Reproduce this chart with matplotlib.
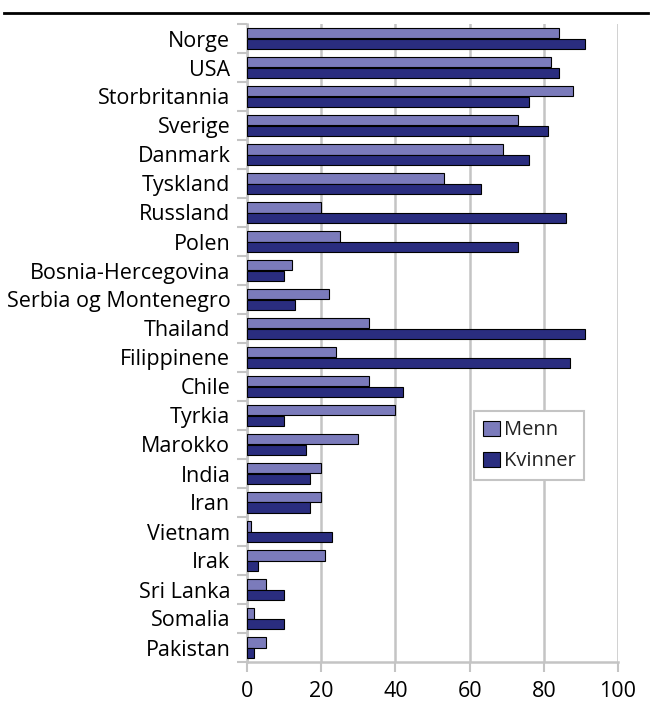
#!/usr/bin/env python3
"""Horizontal grouped bar chart: Menn vs Kvinner by country."""

import matplotlib
matplotlib.use('Agg')
import matplotlib.pyplot as plt
from matplotlib.lines import Line2D
import numpy as np

COLORS = {
    'menn': '#7b7bbb',
    'kvinner': '#2a2d7f',
    'grid': '#c4c4c4',
    'text': '#222222',
}

countries = ['Norge', 'USA', 'Storbritannia', 'Sverige', 'Danmark', 'Tyskland',
             'Russland', 'Polen', 'Bosnia-Hercegovina', 'Serbia og Montenegro',
             'Thailand', 'Filippinene', 'Chile', 'Tyrkia', 'Marokko', 'India',
             'Iran', 'Vietnam', 'Irak', 'Sri Lanka', 'Somalia', 'Pakistan']
menn = [84, 82, 88, 73, 69, 53, 20, 25, 12, 22, 33, 24, 33, 40, 30, 20, 20, 1, 21, 5, 2, 5]
kvinner = [91, 84, 76, 81, 76, 63, 86, 73, 10, 13, 91, 87, 42, 10, 16, 17, 17, 23, 3, 10, 10, 2]
xticks = [0, 20, 40, 60, 80, 100]

plt.rcParams.update({
    'font.family': ['Open Sans', 'DejaVu Sans'],
    'font.size': 15.5,
    'text.color': COLORS['text'],
})

fig = plt.figure(figsize=(6.52, 7.04), dpi=100)
ax = fig.add_axes([247 / 652, 1 - 662 / 704, 371 / 652, 638 / 704])

y = np.arange(len(countries))
h = 0.37
ax.barh(y - h / 2, menn, h, color=COLORS['menn'], edgecolor='black',
        linewidth=0.8, label='Menn', zorder=3)
ax.barh(y + h / 2, kvinner, h, color=COLORS['kvinner'], edgecolor='black',
        linewidth=0.8, label='Kvinner', zorder=3)

ax.set_xlim(0, 100)
ax.set_ylim(len(countries) - 0.5, -0.5)

ax.set_xticks(xticks)
ax.set_yticks(y)
ax.set_yticklabels(countries)
ax.set_yticks(np.arange(-0.5, len(countries)), minor=True)

ax.tick_params(axis='y', which='major', length=0, pad=12, labelsize=15.5)
ax.tick_params(axis='y', which='minor', length=7, width=1.5, color=COLORS['grid'])
ax.tick_params(axis='x', which='major', length=7, width=1.5, color=COLORS['grid'],
               pad=7, labelsize=15.5)

ax.grid(axis='x', color=COLORS['grid'], linewidth=1.8, zorder=0)
for s in ['top', 'right']:
    ax.spines[s].set_visible(False)
for s in ['left', 'bottom']:
    ax.spines[s].set_color(COLORS['grid'])
    ax.spines[s].set_linewidth(1.8)

leg = ax.legend(loc='upper left', bbox_to_anchor=(0.613, 0.393), fancybox=False,
                framealpha=1, edgecolor=COLORS['grid'], handlelength=0.8,
                handleheight=0.8, handletextpad=0.2, borderpad=0.45,
                borderaxespad=0, labelspacing=0.55, fontsize=14.5)
leg.get_frame().set_linewidth(1.5)

# black rule under the (cropped) heading
fig.add_artist(Line2D([4 / 652, 648 / 652], [1 - 13 / 704, 1 - 13 / 704],
                      color='black', linewidth=2))

fig.savefig('out.png', dpi=100)
